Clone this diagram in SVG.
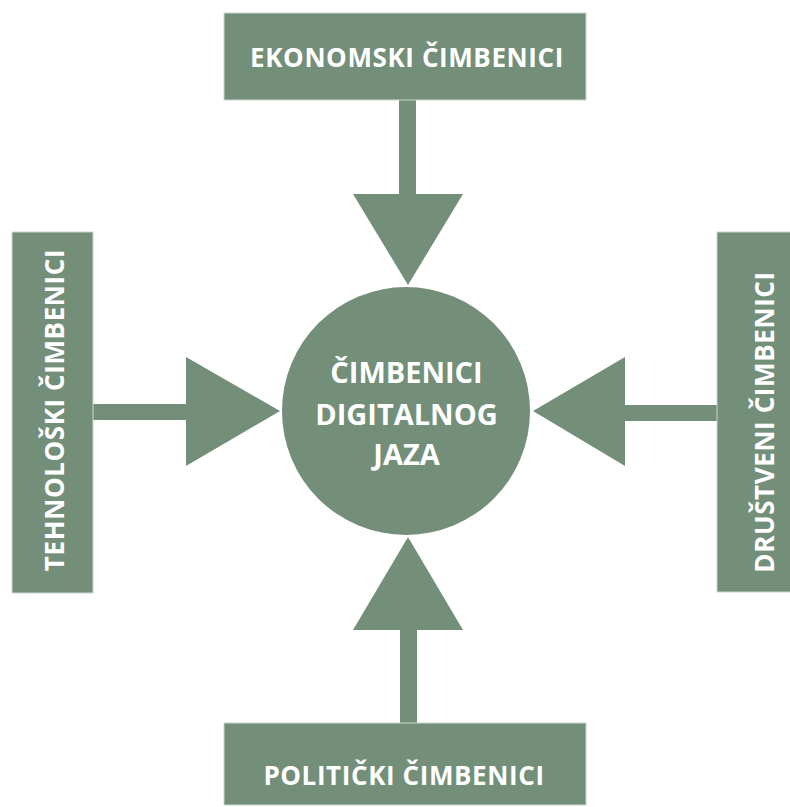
<svg xmlns="http://www.w3.org/2000/svg" width="790" height="807" viewBox="0 0 790 807">
<style>
.box{fill:#738f7a;stroke:#c9d6cc;stroke-width:1}
.c{fill:#738f7a}
.t{fill:#ffffff;font-family:"Open Sans","Noto Sans","Liberation Sans",sans-serif;font-weight:bold;font-size:26px;letter-spacing:0.6px;text-anchor:middle}
.ct{fill:#ffffff;font-family:"Open Sans","Noto Sans","Liberation Sans",sans-serif;font-weight:bold;font-size:29px;text-anchor:middle}
</style>
<rect width="790" height="807" fill="#ffffff"/>
<g id="connectors" class="c">
  <rect x="399" y="100" width="17" height="96"/>
  <polygon points="353,194 463,194 408,285"/>
  <rect x="93" y="404" width="95" height="16"/>
  <polygon points="186,357 186,466 280,411"/>
  <rect x="623" y="405" width="95" height="16"/>
  <polygon points="625,357 625,466 533,411"/>
  <rect x="400" y="628" width="17" height="96"/>
  <polygon points="353,630 463,630 408,537"/>
</g>
<g id="ekonomski">
  <rect class="box" x="224" y="13" width="362" height="87"/>
  <text class="t" x="407" y="67">EKONOMSKI ČIMBENICI</text>
</g>
<g id="tehnoloski">
  <rect class="box" x="12" y="232" width="81" height="361"/>
  <text class="t" transform="translate(64,410) rotate(-90)">TEHNOLOŠKI ČIMBENICI</text>
</g>
<g id="drustveni">
  <rect class="box" x="717" y="232" width="80" height="360"/>
  <text class="t" transform="translate(774,422) rotate(-90)">DRUŠTVENI ČIMBENICI</text>
</g>
<g id="politicki">
  <rect class="box" x="224" y="723" width="362" height="82"/>
  <text class="t" x="404" y="785">POLITIČKI ČIMBENICI</text>
</g>
<g id="center">
  <circle class="c" cx="406" cy="411" r="124"/>
  <text class="ct" x="406.5" y="383">ČIMBENICI</text>
  <text class="ct" x="406.5" y="425">DIGITALNOG</text>
  <text class="ct" x="406.5" y="465">JAZA</text>
</g>
</svg>
